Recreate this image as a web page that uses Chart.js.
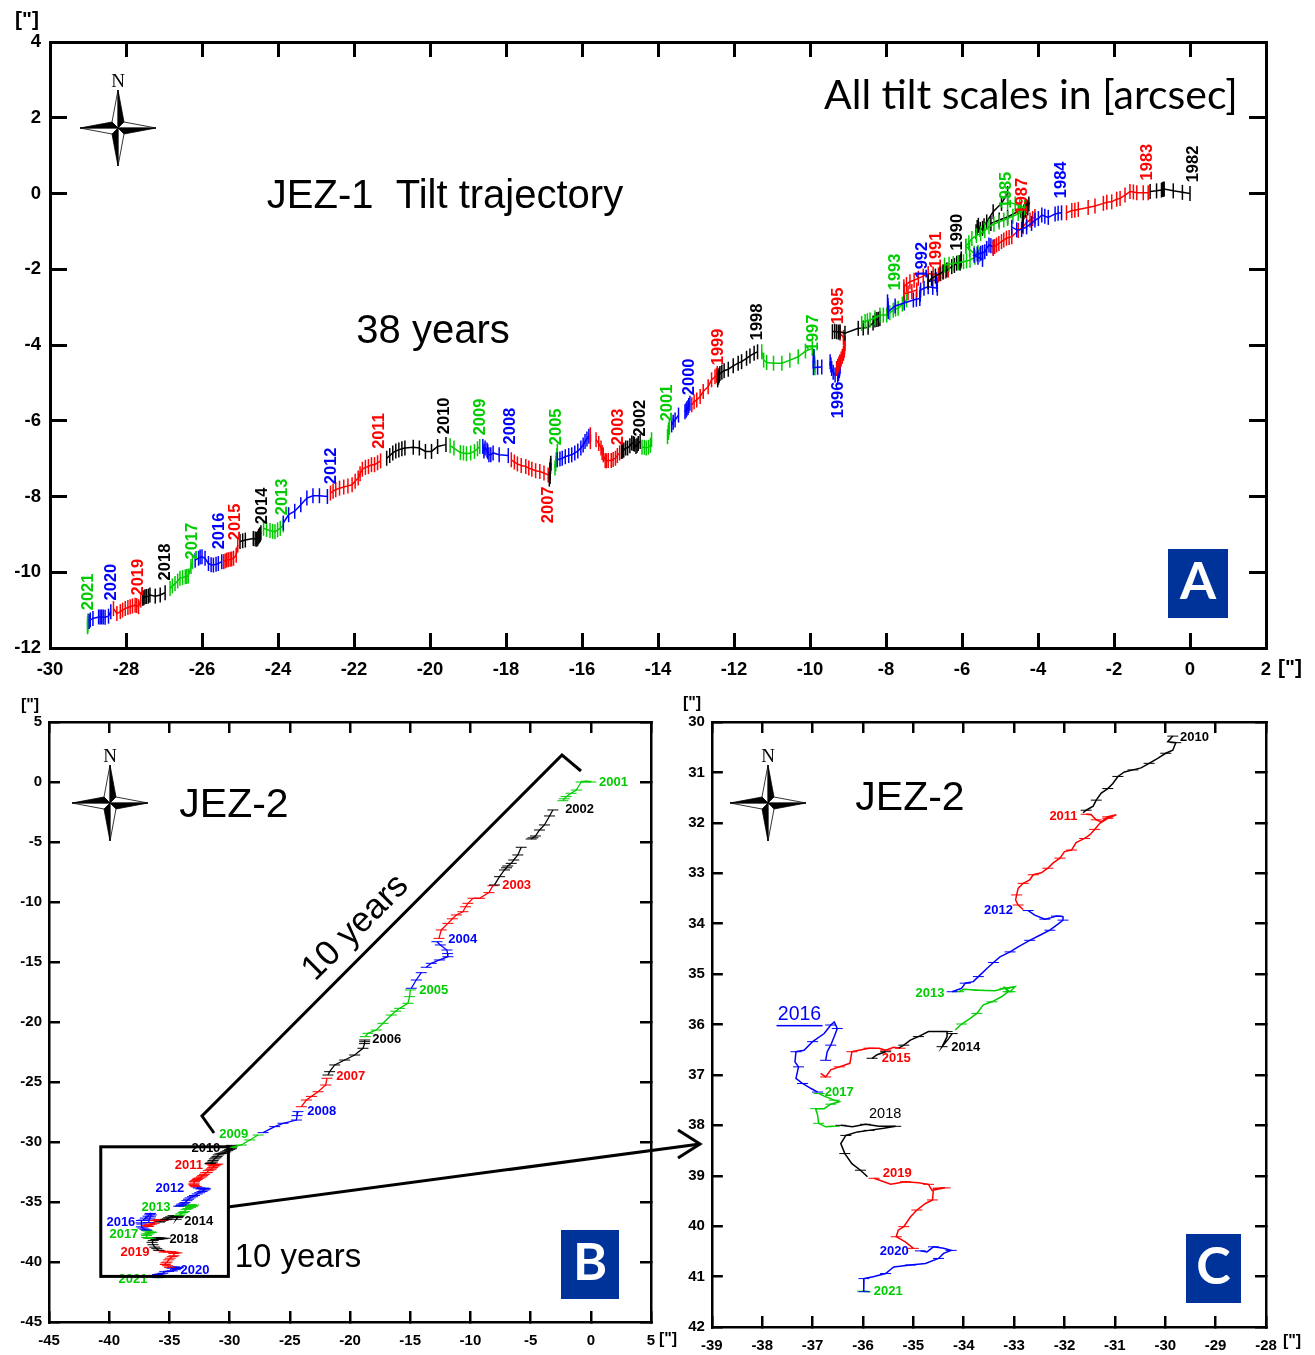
<!DOCTYPE html>
<html><head><meta charset="utf-8">
<script src="https://cdn.jsdelivr.net/npm/chart.js@4"></script>
<style>
html,body{margin:0;padding:0;background:#fff;width:1315px;height:1355px;overflow:hidden}
canvas{position:absolute;display:block}
svg{position:absolute;left:0;top:0;pointer-events:none}
svg text{font-family:"Liberation Sans",Arial,sans-serif;fill:#000}
</style></head><body>
<canvas id="cA" style="left:0;top:0"></canvas>
<canvas id="cB" style="left:0;top:690px"></canvas>
<canvas id="cC" style="left:680px;top:690px"></canvas>
<svg id="ov" width="1315" height="1355"></svg>
<script>
// ---------- JEZ-1 tilt trajectory [arcsec] ----------
const j1_1982=[[0,0],[-.2,.03],[-.44,.07],[-.68,.12],[-.7,.11],[-.72,.11],[-.75,.09],[-.88,.07],[-1.05,.05]];
const j1_1983=[[-1.1,.02],[-1.23,.02],[-1.4,.02],[-1.49,.04],[-1.58,.05],[-1.71,-.04],[-1.84,-.13],[-1.93,-.15],[-2.06,-.22],[-2.19,-.23],[-2.28,-.26],[-2.5,-.33],[-2.68,-.37],[-2.94,-.42],[-3.03,-.44],[-3.11,-.45],[-3.25,-.51]];
const j1_1984=[[-3.38,-.51],[-3.47,-.52],[-3.55,-.54],[-3.73,-.63],[-3.82,-.6],[-3.9,-.57],[-3.99,-.66],[-4.08,-.7],[-4.17,-.79],[-4.3,-.88],[-4.43,-.95],[-4.56,-.96],[-4.69,-.89]];
const j1_1985=[[-4.8,-.22],[-4.6,-.28],[-4.48,-.33],[-4.35,-.37],[-4.44,-.46],[-4.52,-.53],[-4.66,-.6],[-4.8,-.66],[-4.9,-.7],[-5.02,-.75],[-5.16,-.81],[-5.29,-.88],[-5.4,-.98],[-5.51,-1.06],[-5.62,-1.11],[-5.74,-1.19],[-5.82,-1.3],[-5.9,-1.39]];
const j1_1986a=[[-5.63,-1.01],[-5.6,-.9],[-5.57,-.84],[-5.52,-.95],[-5.46,-.92],[-5.42,-.85],[-5.35,-.75],[-5.18,-.48],[-4.96,-.26],[-4.8,0]];
const j1_1986b=[[-5.24,-.79],[-5.02,-.7],[-4.8,-.62],[-4.46,-.44],[-4.3,-.34],[-4.24,-.28],[-4.27,-.38],[-4.33,-.44],[-4.37,-.48],[-4.39,-.58],[-4.4,-.7],[-4.41,-.84]];
const j1_1987=[[-4.08,-.61],[-4.14,-.66],[-4.21,-.7],[-4.3,-.76],[-4.39,-.88],[-4.52,-.98],[-4.69,-1.14],[-4.76,-1.16],[-4.83,-1.18],[-4.9,-1.23],[-4.96,-1.27],[-5.03,-1.32],[-5.09,-1.36],[-5.14,-1.4],[-5.18,-1.45]];
const j1_1988=[[-5.18,-1.41],[-5.24,-1.38],[-5.29,-1.36],[-5.35,-1.45],[-5.4,-1.54],[-5.46,-1.56],[-5.51,-1.58],[-5.6,-1.6],[-5.68,-1.63],[-5.58,-1.68],[-5.46,-1.74]];
const j1_1989=[[-5.9,-1.39],[-5.8,-1.48],[-5.68,-1.58],[-5.58,-1.55],[-5.46,-1.57],[-5.54,-1.62],[-5.66,-1.68],[-5.79,-1.76],[-5.88,-1.78],[-5.96,-1.8],[-6.1,-1.83],[-6.23,-1.85],[-6.34,-1.87],[-6.46,-1.89]];
const j1_1990=[[-6.02,-1.72],[-6.03,-1.78],[-6.05,-1.84],[-6.08,-1.82],[-6.14,-1.84],[-6.2,-1.9],[-6.27,-1.93],[-6.4,-2.02],[-6.5,-2.07],[-6.58,-2.11],[-6.7,-2.18],[-6.8,-2.24],[-6.89,-2.33]];
const j1_1991=[[-6.36,-2.02],[-6.43,-2.05],[-6.49,-2.07],[-6.56,-2.12],[-6.62,-2.15],[-6.76,-2.13],[-6.89,-2.11],[-7.02,-2.18],[-7.15,-2.24],[-7.26,-2.29],[-7.37,-2.33],[-7.46,-2.4],[-7.53,-2.46],[-7.53,-2.55],[-7.53,-2.64],[-7.42,-2.62],[-7.32,-2.59],[-7.19,-2.55]];
const j1_1992=[[-6.89,-2.33],[-6.78,-2.3],[-6.67,-2.28],[-6.66,-2.4],[-6.65,-2.5],[-6.77,-2.48],[-6.89,-2.46],[-7.0,-2.5],[-7.09,-2.55],[-7.1,-2.66],[-7.11,-2.77],[-7.2,-2.79],[-7.28,-2.81],[-7.52,-2.89],[-7.76,-2.97],[-7.94,-3.12],[-7.95,-3.04],[-7.95,-2.96],[-7.96,-2.86]];
const j1_1993=[[-7.46,-2.81],[-7.57,-2.92],[-7.68,-3.03],[-7.75,-3.05],[-7.81,-3.08],[-7.9,-3.15],[-7.98,-3.21],[-8.07,-3.21],[-8.16,-3.21],[-8.29,-3.28],[-8.42,-3.34],[-8.49,-3.36],[-8.55,-3.38],[-8.64,-3.43]];
const j1_1994=[[-8.16,-3.3],[-8.2,-3.32],[-8.24,-3.33],[-8.29,-3.34],[-8.34,-3.42],[-8.47,-3.53],[-8.6,-3.55],[-8.73,-3.56],[-9.08,-3.69],[-9.21,-3.65],[-9.25,-3.66],[-9.3,-3.65],[-9.35,-3.64],[-9.41,-3.65]];
const j1_1995=[[-9.21,-3.69],[-9.12,-3.8],[-9.08,-3.96],[-9.09,-4.05],[-9.1,-4.14],[-9.12,-4.22],[-9.15,-4.3],[-9.18,-4.37],[-9.21,-4.44],[-9.24,-4.5],[-9.27,-4.56],[-9.3,-4.62]];
const j1_1996a=[[-9.21,-4.47],[-9.21,-4.57],[-9.22,-4.63],[-9.23,-4.68],[-9.25,-4.75],[-9.27,-4.8],[-9.34,-4.79],[-9.39,-4.72],[-9.43,-4.62],[-9.45,-4.53],[-9.47,-4.44]];
const j1_1996b=[[-9.9,-4.3],[-9.91,-4.42],[-9.91,-4.6],[-9.8,-4.59],[-9.69,-4.58]];
const j1_1997=[[-9.87,-4.6],[-9.88,-4.53],[-9.88,-4.46],[-9.89,-4.38],[-9.89,-4.31],[-9.94,-4.09],[-10.12,-4.16],[-10.31,-4.31],[-10.53,-4.4],[-10.74,-4.48],[-10.96,-4.48],[-11.14,-4.46],[-11.22,-4.4],[-11.27,-4.18]];
const j1_1998=[[-11.38,-4.18],[-11.47,-4.22],[-11.58,-4.29],[-11.67,-4.35],[-11.8,-4.44],[-11.89,-4.48],[-12.02,-4.55],[-12.15,-4.64],[-12.26,-4.68],[-12.32,-4.72],[-12.37,-4.75],[-12.39,-4.8],[-12.41,-4.85],[-12.43,-4.92]];
const j1_1999=[[-12.43,-4.8],[-12.44,-4.75],[-12.46,-4.8],[-12.5,-4.84],[-12.59,-4.92],[-12.68,-5.1],[-12.81,-5.23],[-12.89,-5.36],[-12.98,-5.45],[-13.05,-5.5],[-13.11,-5.58]];
const j1_2000a=[[-13.16,-5.54],[-13.19,-5.6],[-13.21,-5.65],[-13.24,-5.68],[-13.26,-5.72],[-13.29,-5.76]];
const j1_2000b=[[-13.46,-5.85],[-13.55,-5.98],[-13.6,-6.04],[-13.64,-6.11]];
const j1_2001a=[[-13.7,-6.17],[-13.72,-6.24],[-13.73,-6.31],[-13.75,-6.42]];
const j1_2001b=[[-14.17,-6.5],[-14.2,-6.65],[-14.25,-6.7],[-14.31,-6.72],[-14.36,-6.7],[-14.42,-6.7]];
const j1_2002=[[-14.47,-6.55],[-14.52,-6.6],[-14.55,-6.65],[-14.58,-6.68],[-14.62,-6.62],[-14.65,-6.6],[-14.69,-6.59],[-14.74,-6.66],[-14.8,-6.72],[-14.85,-6.72],[-14.9,-6.77],[-14.93,-6.8],[-14.96,-6.81]];
const j1_2003a=[[-15.01,-6.85],[-15.07,-6.92],[-15.12,-6.99],[-15.18,-7.02],[-15.23,-7.05],[-15.31,-7.05],[-15.36,-7.06],[-15.39,-7.05],[-15.44,-6.9],[-15.47,-6.84],[-15.5,-6.72],[-15.56,-6.6],[-15.63,-6.5]];
const j1_2003b=[[-15.78,-6.55],[-15.78,-6.37]];
const j1_2004=[[-15.82,-6.41],[-15.87,-6.48],[-15.92,-6.55],[-15.97,-6.64],[-16.03,-6.72],[-16.11,-6.8],[-16.19,-6.85],[-16.27,-6.9],[-16.35,-6.92],[-16.44,-6.95],[-16.52,-6.99],[-16.58,-7.01],[-16.65,-7.03]];
const j1_2005=[[-16.65,-6.81],[-16.66,-6.92],[-16.68,-7.03],[-16.69,-7.14],[-16.71,-7.25]];
const j1_2006=[[-16.82,-7.12],[-16.83,-7.2],[-16.84,-7.29],[-16.84,-7.38],[-16.84,-7.47],[-16.86,-7.54]];
const j1_2007=[[-16.89,-7.43],[-17.0,-7.38],[-17.11,-7.34],[-17.22,-7.32],[-17.32,-7.28],[-17.4,-7.25],[-17.48,-7.21],[-17.6,-7.18],[-17.7,-7.14],[-17.78,-7.09],[-17.86,-7.03]];
const j1_2008=[[-17.94,-6.92],[-18.18,-6.9],[-18.34,-6.85],[-18.4,-6.9],[-18.45,-6.9],[-18.48,-6.82],[-18.5,-6.77],[-18.55,-6.72],[-18.58,-6.8],[-18.61,-6.68]];
const j1_2009=[[-18.69,-6.68],[-18.75,-6.74],[-18.83,-6.81],[-18.93,-6.85],[-19.04,-6.87],[-19.12,-6.85],[-19.2,-6.84],[-19.37,-6.72],[-19.47,-6.66]];
const j1_2010=[[-19.58,-6.63],[-19.8,-6.68],[-19.96,-6.81],[-20.12,-6.81],[-20.28,-6.72],[-20.44,-6.7],[-20.66,-6.72],[-20.74,-6.74],[-20.82,-6.77],[-20.9,-6.8],[-20.98,-6.85],[-21.06,-6.92],[-21.14,-6.99]];
const j1_2011=[[-21.3,-7.06],[-21.38,-7.11],[-21.46,-7.16],[-21.54,-7.16],[-21.62,-7.21],[-21.7,-7.23],[-21.78,-7.28],[-21.84,-7.4],[-21.89,-7.51],[-21.97,-7.6],[-22.05,-7.69],[-22.16,-7.72],[-22.27,-7.75],[-22.38,-7.78],[-22.48,-7.82],[-22.55,-7.86],[-22.62,-7.91]];
const j1_2012=[[-22.7,-8.0],[-22.91,-7.98],[-23.08,-7.98],[-23.24,-8.04],[-23.4,-8.22],[-23.56,-8.39],[-23.72,-8.48],[-23.86,-8.7]];
const j1_2013=[[-23.86,-8.75],[-23.94,-8.84],[-24.01,-8.88],[-24.08,-8.93],[-24.14,-8.92],[-24.21,-8.9],[-24.3,-8.87],[-24.38,-8.84]];
const j1_2014=[[-24.45,-8.96],[-24.47,-9.0],[-24.49,-9.03],[-24.51,-9.06],[-24.53,-9.1],[-24.56,-9.13],[-24.6,-9.12],[-24.65,-9.11],[-24.86,-9.15],[-24.93,-9.17],[-25.0,-9.19]];
const j1_2015=[[-25.06,-9.28],[-25.1,-9.55],[-25.17,-9.63],[-25.22,-9.65],[-25.26,-9.66],[-25.31,-9.67],[-25.35,-9.68],[-25.39,-9.7],[-25.43,-9.72]];
const j1_2016=[[-25.48,-9.72],[-25.57,-9.77],[-25.63,-9.79],[-25.7,-9.81],[-25.76,-9.8],[-25.83,-9.77],[-25.92,-9.63],[-26.0,-9.59],[-26.05,-9.6],[-26.09,-9.63],[-26.18,-9.68]];
const j1_2017=[[-26.25,-9.72],[-26.29,-9.85],[-26.36,-10.1],[-26.4,-10.11],[-26.44,-10.12],[-26.51,-10.14],[-26.58,-10.16],[-26.64,-10.23],[-26.71,-10.3],[-26.78,-10.36],[-26.84,-10.43]];
const j1_2018=[[-26.97,-10.54],[-27.1,-10.6],[-27.23,-10.63],[-27.37,-10.6],[-27.41,-10.63],[-27.46,-10.64],[-27.5,-10.65],[-27.53,-10.67],[-27.56,-10.69]];
const j1_2019=[[-27.61,-10.73],[-27.67,-10.91],[-27.72,-10.88],[-27.76,-10.87],[-27.83,-10.89],[-27.89,-10.91],[-27.95,-10.93],[-28.02,-10.96],[-28.09,-11.0],[-28.15,-11.04],[-28.24,-11.09],[-28.33,-10.96]];
const j1_2020=[[-28.4,-11.04],[-28.46,-11.16],[-28.55,-11.19],[-28.6,-11.18],[-28.64,-11.18],[-28.68,-11.18],[-28.72,-11.18],[-28.87,-11.22],[-28.94,-11.26],[-28.97,-11.3]];
const j1_2021=[[-29.0,-11.28],[-29.01,-11.34],[-29.01,-11.4],[-29.01,-11.44]];
const j1Tracks=[[1982,j1_1982],[1983,j1_1983],[1984,j1_1984],[1985,j1_1985],[1986,j1_1986a],[1986,j1_1986b],[1987,j1_1987],[1988,j1_1988],[1989,j1_1989],[1990,j1_1990],[1991,j1_1991],[1992,j1_1992],[1993,j1_1993],[1994,j1_1994],[1995,j1_1995],[1996,j1_1996a],[1996,j1_1996b],[1997,j1_1997],[1998,j1_1998],[1999,j1_1999],[2000,j1_2000a],[2000,j1_2000b],[2001,j1_2001a],[2001,j1_2001b],[2002,j1_2002],[2003,j1_2003a],[2003,j1_2003b],[2004,j1_2004],[2005,j1_2005],[2006,j1_2006],[2007,j1_2007],[2008,j1_2008],[2009,j1_2009],[2010,j1_2010],[2011,j1_2011],[2012,j1_2012],[2013,j1_2013],[2014,j1_2014],[2015,j1_2015],[2016,j1_2016],[2017,j1_2017],[2018,j1_2018],[2019,j1_2019],[2020,j1_2020],[2021,j1_2021]];
const j1Labels=[[2021,-28.99,-10.52],[2020,-28.39,-10.26],[2019,-27.68,-10.13],[2018,-26.97,-9.73],[2017,-26.26,-9.18],[2016,-25.53,-8.91],[2015,-25.11,-8.67],[2014,-24.42,-8.25],[2013,-23.89,-8.01],[2012,-22.6,-7.19],[2011,-21.32,-6.27],[2010,-19.63,-5.87],[2009,-18.66,-5.9],[2008,-17.89,-6.14],[2007,-16.87,-8.22],[2005,-16.66,-6.16],[2003,-15.05,-6.16],[2002,-14.47,-5.93],[2001,-13.76,-5.53],[2000,-13.18,-4.84],[1999,-12.42,-4.05],[1998,-11.39,-3.39],[1997,-9.92,-3.68],[1996,-9.26,-5.45],[1995,-9.24,-2.97],[1993,-7.76,-2.07],[1992,-7.05,-1.76],[1991,-6.68,-1.49],[1990,-6.11,-1.02],[1987,-4.42,-.07],[1985,-4.82,.09],[1984,-3.37,.36],[1983,-1.11,.83],[1982,.08,.78]];

// ---------- JEZ-2, 2001-2009 ----------
const j2_2001=[[0,0],[-.39,.06],[-.8,0],[-1.2,-.67],[-1.63,-.94],[-2.05,-1.22],[-2.2,-1.4],[-2.32,-1.56]];
const j2_2002a=[[-3.15,-2.33],[-3.43,-2.83],[-3.85,-3.58],[-4.26,-4.0],[-4.6,-4.5],[-4.8,-4.65],[-4.95,-4.75]];
const j2_2002b=[[-5.78,-5.44],[-6.06,-6.08],[-6.4,-6.5],[-6.61,-6.78],[-6.9,-7.0],[-7.0,-7.15],[-7.17,-7.33],[-7.58,-7.89],[-8.0,-8.58]];
const j2_2003=[[-8.13,-8.64],[-8.46,-9.22],[-9.24,-9.69],[-9.79,-9.69],[-10.21,-10.11],[-10.4,-10.4],[-10.62,-10.81],[-11.17,-11.08],[-11.5,-11.4],[-11.87,-11.78],[-12.42,-12.33],[-12.61,-13.03]];
const j2_2004a=[[-12.78,-13.31],[-12.5,-13.58],[-11.95,-14.0],[-11.9,-14.3],[-11.87,-14.56],[-12.56,-14.83],[-13.25,-15.11],[-13.67,-15.44]];
const j2_2004b=[[-14.08,-15.89],[-14.5,-16.5],[-14.91,-17.19]];
const j2_2005=[[-14.99,-17.33],[-15.05,-17.89],[-15.19,-18.44],[-15.88,-18.86],[-16.2,-19.1],[-16.57,-19.42],[-17.26,-20.11],[-17.81,-20.67],[-18.51,-20.94],[-18.73,-21.22]];
const j2_2006=[[-18.78,-21.5],[-18.78,-21.64],[-18.8,-21.8],[-18.92,-22.19],[-19.61,-22.75],[-20.44,-23.17],[-21.27,-23.58],[-21.69,-24.14],[-21.83,-24.42]];
const j2_2007=[[-21.91,-24.69],[-22.02,-25.25],[-22.65,-25.81],[-23.2,-26.2],[-23.62,-26.5],[-24.04,-27.06]];
const j2_2008=[[-24.32,-27.47],[-24.4,-27.8],[-24.45,-28.17],[-25.56,-28.44],[-26.25,-28.72],[-27.22,-29.22]];
const j2_2009=[[-27.63,-29.42],[-28.33,-29.83],[-29.02,-30.25],[-29.85,-30.44]];

// ---------- JEZ-2, 2010-2021 (panel C: south-positive) ----------
const j2_2010=[[-29.85,30.28],[-29.95,30.39],[-29.79,30.41],[-29.85,30.56],[-29.99,30.62],[-30.15,30.72],[-30.32,30.82],[-30.48,30.91],[-30.64,30.95],[-30.81,30.99],[-30.94,31.08],[-31.04,31.22],[-31.14,31.32],[-31.27,31.41],[-31.37,31.55],[-31.43,31.67],[-31.57,31.75],[-31.63,31.8]];
const j2_2011=[[-31.57,31.83],[-31.47,31.84],[-31.37,31.94],[-31.27,31.98],[-31.14,31.88],[-30.97,31.84],[-31.14,31.91],[-31.3,32.01],[-31.4,32.13],[-31.5,32.24],[-31.6,32.31],[-31.77,32.39],[-31.86,32.54],[-32.0,32.57],[-32.09,32.7],[-32.23,32.8],[-32.33,32.9],[-32.46,32.99],[-32.62,33.03],[-32.69,33.13],[-32.82,33.2],[-32.92,33.3],[-32.95,33.43],[-32.97,33.53],[-32.92,33.63],[-32.82,33.72]];
const j2_2012=[[-32.72,33.74],[-32.59,33.83],[-32.39,33.91],[-32.26,33.88],[-32.16,33.85],[-32.03,33.86],[-32.03,33.93],[-32.13,34.01],[-32.29,34.13],[-32.49,34.23],[-32.69,34.33],[-32.92,34.46],[-33.08,34.56],[-33.28,34.66],[-33.41,34.77],[-33.54,34.89],[-33.71,35.05],[-33.81,35.15],[-33.97,35.18],[-34.04,35.28],[-34.23,35.35]];
const j2_2013=[[-34.1,35.35],[-34.0,35.3],[-33.71,35.32],[-33.38,35.33],[-33.18,35.28],[-32.98,35.25],[-33.08,35.35],[-33.21,35.25],[-33.12,35.35],[-33.25,35.45],[-33.44,35.55],[-33.61,35.61],[-33.74,35.78],[-33.87,35.88],[-34.04,35.99],[-34.17,36.11]];
const j2_2014=[[-34.23,36.18],[-34.3,36.28],[-34.43,36.44],[-34.33,36.24],[-34.33,36.14],[-34.7,36.14],[-34.9,36.24],[-35.06,36.31],[-35.19,36.41],[-35.29,36.47]];
const j2_2014b=[[-35.55,36.54],[-35.72,36.6],[-35.82,36.67]];
const j2_2015=[[-35.26,36.47],[-35.39,36.45],[-35.55,36.51],[-35.68,36.47],[-35.88,36.47],[-36.08,36.51],[-36.22,36.54],[-36.26,36.77],[-36.47,36.84],[-36.64,36.9],[-36.74,37.04],[-36.84,36.97]];
const j2_2016=[[-36.74,36.71],[-36.71,36.54],[-36.64,36.41],[-36.57,36.24],[-36.51,36.08],[-36.57,35.95],[-36.64,36.01],[-36.77,36.18],[-37.0,36.34],[-37.17,36.51],[-37.33,36.54],[-37.35,36.74],[-37.28,36.84],[-37.33,37.07],[-37.2,37.17],[-37.03,37.27],[-36.9,37.34]];
const j2_2017=[[-36.87,37.37],[-36.77,37.42],[-36.57,37.5],[-36.47,37.53],[-36.64,37.58],[-36.77,37.67],[-36.94,37.67],[-36.9,37.8],[-36.88,37.96],[-36.74,38.03],[-36.57,38.02]];
const j2_2018=[[-36.44,38.0],[-36.21,38.03],[-35.95,37.98],[-35.68,38.02],[-35.35,38.02],[-35.59,38.06],[-35.88,38.1],[-36.11,38.13],[-36.34,38.2],[-36.44,38.36],[-36.36,38.56],[-36.22,38.76],[-36.05,38.89],[-35.91,39.02]];
const j2_2019=[[-35.78,39.05],[-35.45,39.17],[-35.16,39.12],[-34.9,39.14],[-34.7,39.17],[-34.63,39.29],[-34.37,39.24],[-34.6,39.25],[-34.62,39.48],[-34.76,39.55],[-34.93,39.68],[-35.06,39.82],[-35.19,40.01],[-35.3,40.08],[-35.34,40.21],[-35.16,40.31],[-35.0,40.44]];
const j2_2020=[[-34.86,40.49],[-34.73,40.51],[-34.6,40.41],[-34.4,40.44],[-34.25,40.48],[-34.4,40.54],[-34.5,40.64],[-34.76,40.74],[-35.06,40.77],[-35.39,40.81],[-35.55,40.94],[-35.78,41.0],[-35.98,41.04],[-35.99,41.17],[-35.98,41.3]];
const j2_2021=[[-36.01,41.29],[-35.85,41.3]];

const bTracks=[[2001,j2_2001],[2002,j2_2002a],[2002,j2_2002b],[2003,j2_2003],[2004,j2_2004a],[2004,j2_2004b],[2005,j2_2005],[2006,j2_2006],[2007,j2_2007],[2008,j2_2008],[2009,j2_2009]];
const cTracks=[[2010,j2_2010],[2011,j2_2011],[2012,j2_2012],[2013,j2_2013],[2014,j2_2014],[2015,j2_2015],[2014,j2_2014b],[2016,j2_2016],[2017,j2_2017],[2018,j2_2018],[2019,j2_2019],[2020,j2_2020],[2021,j2_2021]];
const bLabels=[[2001,1.88,0],[2002,-.93,-2.25],[2003,-6.16,-8.58],[2004,-10.64,-13.08],[2005,-13.05,-17.33],[2006,-16.95,-21.42],[2007,-19.94,-24.5],[2008,-22.34,-27.42],[2009,-29.65,-29.33],[2010,-31.97,-30.5],[2011,-33.38,-31.92],[2012,-34.96,-33.83],[2013,-36.12,-35.42],[2014,-32.56,-36.58],[2016,-39.03,-36.67],[2017,-38.78,-37.67],[2018,-33.8,-38.08],[2019,-37.86,-39.17],[2020,-32.88,-40.67],[2021,-38.03,-41.42]];
const cLabels=[[2010,-29.42,30.3],[2011,-32.02,31.87],[2012,-33.31,33.73],[2013,-34.67,35.38],[2014,-33.96,36.45],[2015,-35.34,36.67],[2017,-36.47,37.34],[2019,-35.32,38.95],[2020,-35.38,40.5],[2021,-35.5,41.29]];
const cSpecialLabels=[[2016,-37.26,35.81],[2018,-35.56,37.78]];
const zoomBox=[-40.7,-30.4,-30.1,-41.2];

// ---------- helpers ----------
const FONT='"Liberation Sans",Arial,sans-serif';
const yearColor=y=>['#000000','#ff0000','#0000ff','#00cc00'][(y-1982)%4];
const pts=a=>a.map(p=>({x:p[0],y:p[1]}));
const ds=(year,arr,o)=>Object.assign({data:pts(arr),showLine:true,borderColor:yearColor(year),pointBorderColor:yearColor(year),
  pointBackgroundColor:yearColor(year),pointStyle:'line',tension:0,pointHoverRadius:0},o);

function axes(xr,yr,o){
  const grid=len=>({drawOnChartArea:false,drawTicks:true,tickLength:-len,color:'#000',lineWidth:o.tickW});
  const border={display:true,color:'#000',width:o.bw};
  const mk=(pos,r,len,pad,show,reverse,fit)=>({type:'linear',position:pos,min:r[0],max:r[1],reverse:!!reverse,
    ticks:{display:show,font:{family:FONT,size:o.fs,weight:'bold'},color:'#000',padding:len+pad,autoSkip:false,maxRotation:0,minRotation:0,stepSize:r[2],callback:v=>String(v)},
    grid:grid(len),border,afterFit:fit});
  return {
    x:mk('bottom',xr,o.xLen,o.xPad,true,false,s=>{s.height=o.xH}),
    y:mk('left',yr,o.yLen,o.yPad,true,o.rev,s=>{s.width=o.yW}),
    x2:mk('top',xr,o.xLen,0,false,false,s=>{s.height=0}),
    y2:mk('right',yr,o.yLen,0,false,o.rev,s=>{s.width=0})
  };
}
const labelPlugin=(list,font,rot,extra)=>({id:'yearLabels',afterDatasetsDraw(ch){
  const c=ch.ctx,sx=ch.scales.x,sy=ch.scales.y;c.save();c.textAlign='center';c.textBaseline='middle';
  list.forEach(l=>{c.save();c.translate(sx.getPixelForValue(l[1]),sy.getPixelForValue(l[2]));if(rot)c.rotate(rot);
    c.font=font;c.fillStyle=yearColor(l[0]);c.fillText(String(l[0]),0,0);c.restore();});
  if(extra)extra(c,sx,sy);c.restore();}});
function make(id,w,h,pad,datasets,scales,plugin){
  const cv=document.getElementById(id);cv.width=w;cv.height=h;
  return new Chart(cv,{type:'scatter',data:{datasets},options:{responsive:false,animation:false,devicePixelRatio:1,
    layout:{padding:pad},clip:false,plugins:{legend:{display:false},tooltip:{enabled:false}},scales},plugins:[plugin]});
}

// ---------- Panel A ----------
make('cA',1315,690,{left:0,top:42,right:49,bottom:0},
  j1Tracks.map(t=>ds(t[0],t[1],{borderWidth:1.5,pointRadius:7.5,pointBorderWidth:1.5,pointRotation:90})),
  axes([-30,2,2],[-12,4,2],{fs:18.5,xPad:11,yPad:9,xLen:15,yLen:17,xH:42,yW:50,bw:3,tickW:3}),
  labelPlugin(j1Labels,'bold 16.5px '+FONT,-Math.PI/2));

// ---------- Panel B ----------
const flipped=cTracks.map(t=>[t[0],t[1].map(p=>[p[0],-p[1]])]);
make('cB',680,665,{left:0,top:32,right:29,bottom:0},
  bTracks.concat(flipped).map(t=>ds(t[0],t[1],{borderWidth:1.3,pointRadius:5.5,pointBorderWidth:1})),
  axes([-45,5,5],[-45,5,5],{fs:15,xPad:10,yPad:7,xLen:11,yLen:11,xH:33,yW:49,bw:2.5,tickW:2.5}),
  labelPlugin(bLabels,'bold 13px '+FONT,0,(c,sx,sy)=>{
    c.lineWidth=3;c.strokeStyle='#000';
    const a=sx.getPixelForValue(zoomBox[0]),b=sy.getPixelForValue(zoomBox[1]),d=sx.getPixelForValue(zoomBox[2]),e=sy.getPixelForValue(zoomBox[3]);
    c.strokeRect(a,b,d-a,e-b);}));

// ---------- Panel C ----------
make('cC',635,665,{left:0,top:32,right:49,bottom:0},
  cTracks.map(t=>ds(t[0],t[1],{borderWidth:1.5,pointRadius:c=>c.dataIndex%2?0:5.5,pointBorderWidth:1})),
  axes([-39,-28,1],[30,42,1],{fs:15,xPad:10,yPad:7,xLen:11,yLen:11,xH:28,yW:29,bw:2.5,tickW:2.5,rev:true}),
  labelPlugin(cLabels,'bold 13px '+FONT,0,(c,sx,sy)=>{
    c.textAlign='center';
    const a=cSpecialLabels[0],b=cSpecialLabels[1];
    c.font='19.5px '+FONT;c.fillStyle='#0000ff';const px=sx.getPixelForValue(a[1]),py=sy.getPixelForValue(a[2]);
    c.fillText(String(a[0]),px,py);c.fillRect(px-23,py+10,46,1.5);
    c.font='14.5px '+FONT;c.fillStyle='#000';c.fillText(String(b[0]),sx.getPixelForValue(b[1]),sy.getPixelForValue(b[2]));
  }));

// ---------- Overlay decorations ----------
const NS='http://www.w3.org/2000/svg',ov=document.getElementById('ov');
function el(n,a,t){const e=document.createElementNS(NS,n);for(const k in a)e.setAttribute(k,a[k]);if(t!=null)e.textContent=t;ov.appendChild(e);return e;}
function compass(cx,cy){
  const w='#fff',b='#000',L=38,d=6;
  [[[0,-L],[-d,-d],w],[[0,-L],[d,-d],b],[[L,0],[d,-d],w],[[L,0],[d,d],b],[[0,L],[d,d],w],[[0,L],[-d,d],b],[[-L,0],[-d,d],w],[[-L,0],[-d,-d],b]].forEach(s=>{
    el('polygon',{points:`${cx},${cy} ${cx+s[0][0]},${cy+s[0][1]} ${cx+s[1][0]},${cy+s[1][1]}`,fill:s[2],stroke:'#000','stroke-width':.8});});
  el('text',{x:cx,y:cy-41,'text-anchor':'middle',style:'font-family:"Liberation Serif",serif;font-size:19px'},'N');
}
compass(118,128);compass(110,803);compass(768,803);
function txt(x,y,s,size,o){return el('text',Object.assign({x,y,'text-anchor':'middle','dominant-baseline':'middle',style:`font-size:${size}px`},o||{}),s);}
txt(445,197,'JEZ-1\u00a0\u00a0Tilt trajectory',40);
txt(433,332,'38 years',40);
txt(1031,99,'All tilt scales in [arcsec]',41,{style:'font-family:Lato,sans-serif;font-size:41px'});
txt(234,806,'JEZ-2',41);txt(910,799,'JEZ-2',41);
txt(298,1258,'10 years',33);
txt(356,928,'10 years',35,{transform:'rotate(-45 356 928)'});
[[27,20,21],[1290,668,21],[30,706,16],[668,1340,16],[692,704,16],[1292,1342,16]].forEach(p=>txt(p[0],p[1],'["]',p[2],{style:`font-weight:bold;font-size:${p[2]}px`}));
el('polyline',{points:'214,1133 202,1116 562,755 581,771',fill:'none',stroke:'#000','stroke-width':3});
el('line',{x1:228,y1:1207,x2:700,y2:1144,stroke:'#000','stroke-width':3});
el('polyline',{points:'678,1130 700,1144 678,1158',fill:'none',stroke:'#000','stroke-width':3});
[[1168,549,60,69,'A'],[561,1230,58,69,'B'],[1186,1234,55,69,'C']].forEach(b=>{
  el('rect',{x:b[0],y:b[1],width:b[2],height:b[3],fill:'#003399'});
  txt(b[0]+b[2]/2,b[1]+b[3]/2+2,b[4],52,{style:'font-family:Lato,sans-serif;font-weight:bold;font-size:52px;fill:#fff'});
});
</script>
</body></html>
